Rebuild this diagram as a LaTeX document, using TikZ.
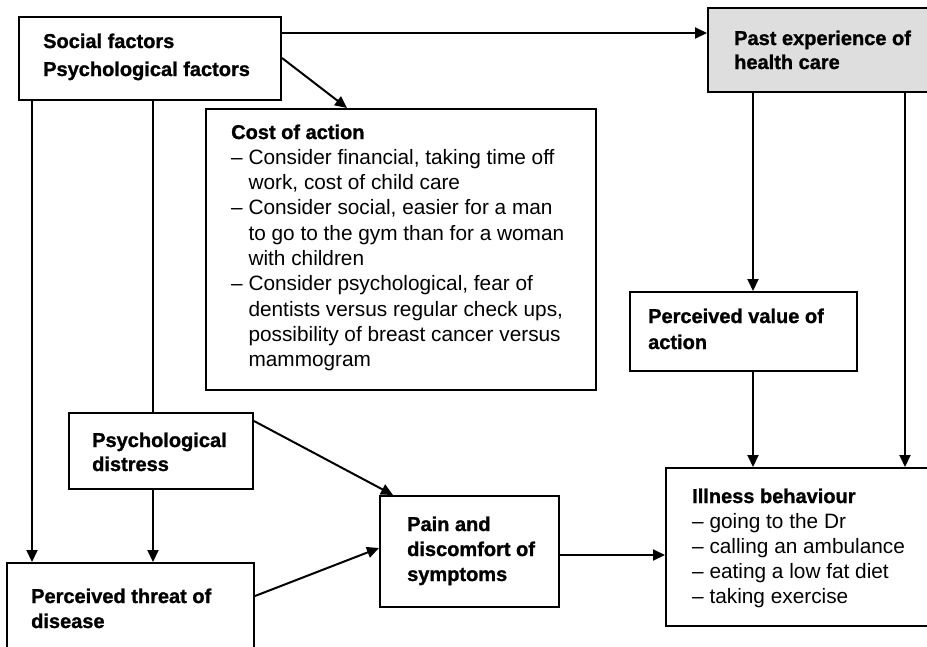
\documentclass[tikz,border=0pt]{standalone}
\usepackage{fontspec}
\setmainfont{Liberation Sans}[BoldFeatures={FakeBold=1.2}]
\usetikzlibrary{arrows.meta}
\newcommand\hdfont{\fontsize{20}{25}\selectfont\bfseries}
\newcommand\bodyfont{\fontsize{20.8}{25}\selectfont}
\begin{document}
\begin{tikzpicture}[x=1pt,y=-1pt,
  box/.style={draw=black, line width=2pt, rectangle, anchor=north west, inner sep=0pt},
  shaded/.style={box, fill=black!13},
  arr/.style={line width=2pt, -{Triangle[length=12pt,width=11pt]}},
  link/.style={line width=2pt},
  hd/.style={anchor=base west, inner sep=0pt, font=\hdfont},
  body/.style={anchor=base west, inner sep=0pt, font=\bodyfont}]
\clip (0,0) rectangle (927,646);
\fill[white] (0,0) rectangle (927,646);

% boxes
\node[box, minimum width=262pt, minimum height=83pt] (soc) at (18,16) {};
\node[shaded, minimum width=240pt, minimum height=84pt] (past) at (707,7) {};
\node[box, minimum width=390pt, minimum height=281pt] (cost) at (205,108) {};
\node[box, minimum width=227pt, minimum height=79pt] (val) at (629,291) {};
\node[box, minimum width=184pt, minimum height=76pt] (dist) at (68,412) {};
\node[box, minimum width=247pt, minimum height=100pt] (threat) at (6,562) {};
\node[box, minimum width=179pt, minimum height=111pt] (pain) at (379,495) {};
\node[box, minimum width=280pt, minimum height=158pt] (ill) at (665,467) {};

% texts
\node[hd] (socT) at (43,48) {\vtop{\baselineskip=28pt\hbox{Social factors}\hbox{Psychological factors}}};
\node[hd] (pastT) at (734,45) {\vtop{\baselineskip=24pt\hbox{Past experience of}\hbox{health care}}};
\node[body] (costT) at (231,139) {\vtop{\baselineskip=25.3pt
  \hbox{\hdfont Cost of action}
  \hbox{– Consider financial, taking time off}
  \hbox{\hphantom{– }work, cost of child care}
  \hbox{– Consider social, easier for a man}
  \hbox{\hphantom{– }to go to the gym than for a woman}
  \hbox{\hphantom{– }with children}
  \hbox{– Consider psychological, fear of}
  \hbox{\hphantom{– }dentists versus regular check ups,}
  \hbox{\hphantom{– }possibility of breast cancer versus}
  \hbox{\hphantom{– }mammogram}}};
\node[hd] (valT) at (648,323) {\vtop{\baselineskip=26pt\hbox{Perceived value of}\hbox{action}}};
\node[hd] (distT) at (92,447) {\vtop{\baselineskip=24pt\hbox{Psychological}\hbox{distress}}};
\node[hd] (painT) at (407,531) {\vtop{\baselineskip=25pt\hbox{Pain and}\hbox{discomfort of}\hbox{symptoms}}};
\node[hd] (threatT) at (31,603) {\vtop{\baselineskip=25pt\hbox{Perceived threat of}\hbox{disease}}};
\node[body] (illT) at (692,503) {\vtop{\baselineskip=25pt
  \hbox{\hdfont Illness behaviour}
  \hbox{– going to the Dr}
  \hbox{– calling an ambulance}
  \hbox{– eating a low fat diet}
  \hbox{– taking exercise}}};

% connectors
\draw[arr] (soc.east |- 0,33) -- (past.west |- 0,33);
\draw[arr] (soc.east |- 0,58) -- (cost.north -| 347,0);
\draw[arr] (soc.south -| 32,0) -- (threat.north -| 32,0);
\draw[link] (soc.south -| 153,0) -- (dist.north -| 153,0);
\draw[arr] (dist.south -| 153,0) -- (threat.north -| 153,0);
\draw[arr] (dist.east |- 0,421) -- (pain.north -| 393,0);
\draw[arr] (threat.east |- 0,596) -- (pain.west |- 0,548);
\draw[arr] (pain.east |- 0,555) -- (ill.west |- 0,555);
\draw[arr] (past.south -| 753,0) -- (val.north -| 753,0);
\draw[arr] (val.south -| 753,0) -- (ill.north -| 753,0);
\draw[arr] (past.south -| 905,0) -- (ill.north -| 905,0);
\end{tikzpicture}
\end{document}
